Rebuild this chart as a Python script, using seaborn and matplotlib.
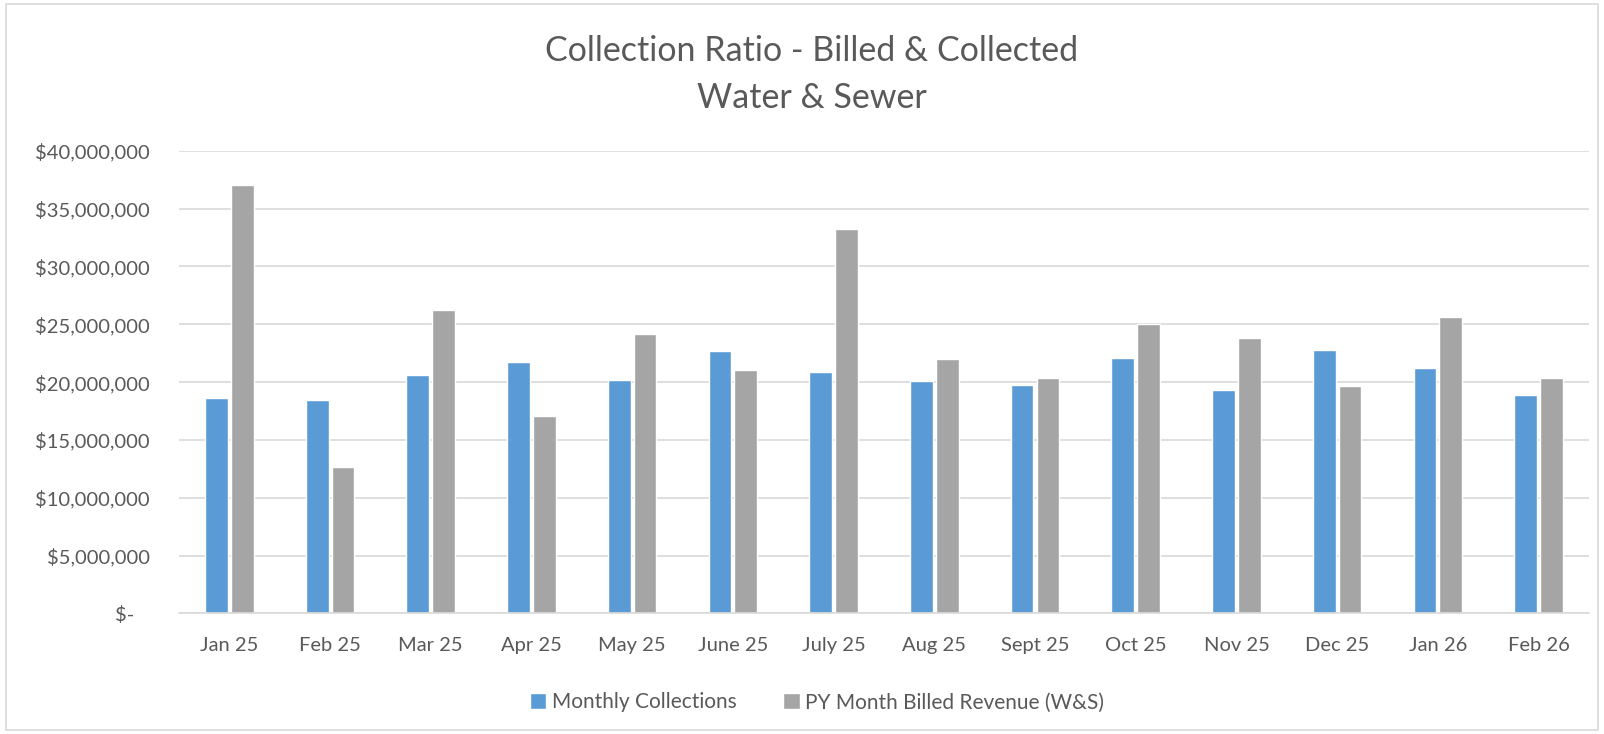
import matplotlib
matplotlib.use("Agg")
import matplotlib.pyplot as plt
import seaborn as sns
import pandas as pd
from matplotlib.ticker import FuncFormatter, MultipleLocator
from matplotlib.patches import Rectangle

months = ["Jan 25", "Feb 25", "Mar 25", "Apr 25", "May 25", "June 25", "July 25",
          "Aug 25", "Sept 25", "Oct 25", "Nov 25", "Dec 25", "Jan 26", "Feb 26"]
monthly_collections = [18.65e6, 18.45e6, 20.58e6, 21.70e6, 20.17e6, 22.68e6, 20.89e6,
                       20.12e6, 19.77e6, 22.04e6, 19.31e6, 22.79e6, 21.21e6, 18.88e6]
py_billed_revenue = [37.04e6, 12.69e6, 26.24e6, 17.06e6, 24.14e6, 21.01e6, 33.24e6,
                     21.99e6, 20.32e6, 24.98e6, 23.83e6, 19.68e6, 25.61e6, 20.35e6]
series_names = ["Monthly Collections", "PY Month Billed Revenue (W&S)"]
colors = ["#5B9BD5", "#A5A5A5"]

df = pd.DataFrame({
    "Month": months * 2,
    "Value": monthly_collections + py_billed_revenue,
    "Series": [series_names[0]] * len(months) + [series_names[1]] * len(months),
})

sns.set_theme(style="white")
plt.rcParams["font.family"] = ["Lato", "DejaVu Sans"]
text_color = "#595959"

fig = plt.figure(figsize=(16.04, 7.34), dpi=100)
ax = fig.add_axes([0.1116, 0.1642, 0.8790, 0.6305])

sns.barplot(data=df, x="Month", y="Value", hue="Series", palette=colors,
            width=0.513, gap=0.12, ax=ax, order=months, hue_order=series_names,
            saturation=1, errorbar=None)
ax.set_xlim(-0.5, len(months) - 0.5)

ax.set_ylim(0, 40e6)
ax.yaxis.set_major_locator(MultipleLocator(5e6))

def fmt(v, pos):
    if abs(v) < 1:
        return "$-   "
    return "${:,.0f}".format(v)

ax.yaxis.set_major_formatter(FuncFormatter(fmt))
ax.grid(axis="y", color="#D9D9D9", linewidth=1.2)
ax.set_axisbelow(True)
for s in ["top", "right", "left"]:
    ax.spines[s].set_visible(False)
ax.spines["bottom"].set_color("#D9D9D9")
ax.spines["bottom"].set_linewidth(1.2)
ax.set_xlabel("")
ax.set_ylabel("")
ax.tick_params(axis="both", length=0, labelsize=14.5, labelcolor=text_color)
ax.tick_params(axis="y", pad=21)
ax.tick_params(axis="x", pad=17)

leg = ax.legend(loc="upper center", bbox_to_anchor=(0.4525, -0.13), ncol=2, frameon=False,
                fontsize=15, handlelength=0.8, handleheight=0.8, handletextpad=0.25,
                columnspacing=2.25, labelcolor=text_color)

fig.text(0.506, 0.931, "Collection Ratio - Billed & Collected", ha="center", va="center",
         fontsize=24.5, color=text_color)
fig.text(0.506, 0.867, "Water & Sewer", ha="center", va="center",
         fontsize=24.5, color=text_color)

fig.patches.append(Rectangle((0.004, 0.006), 0.992, 0.988, transform=fig.transFigure,
                             fill=False, edgecolor="#D9D9D9", linewidth=1.2))

fig.savefig("out.png", dpi=100)
